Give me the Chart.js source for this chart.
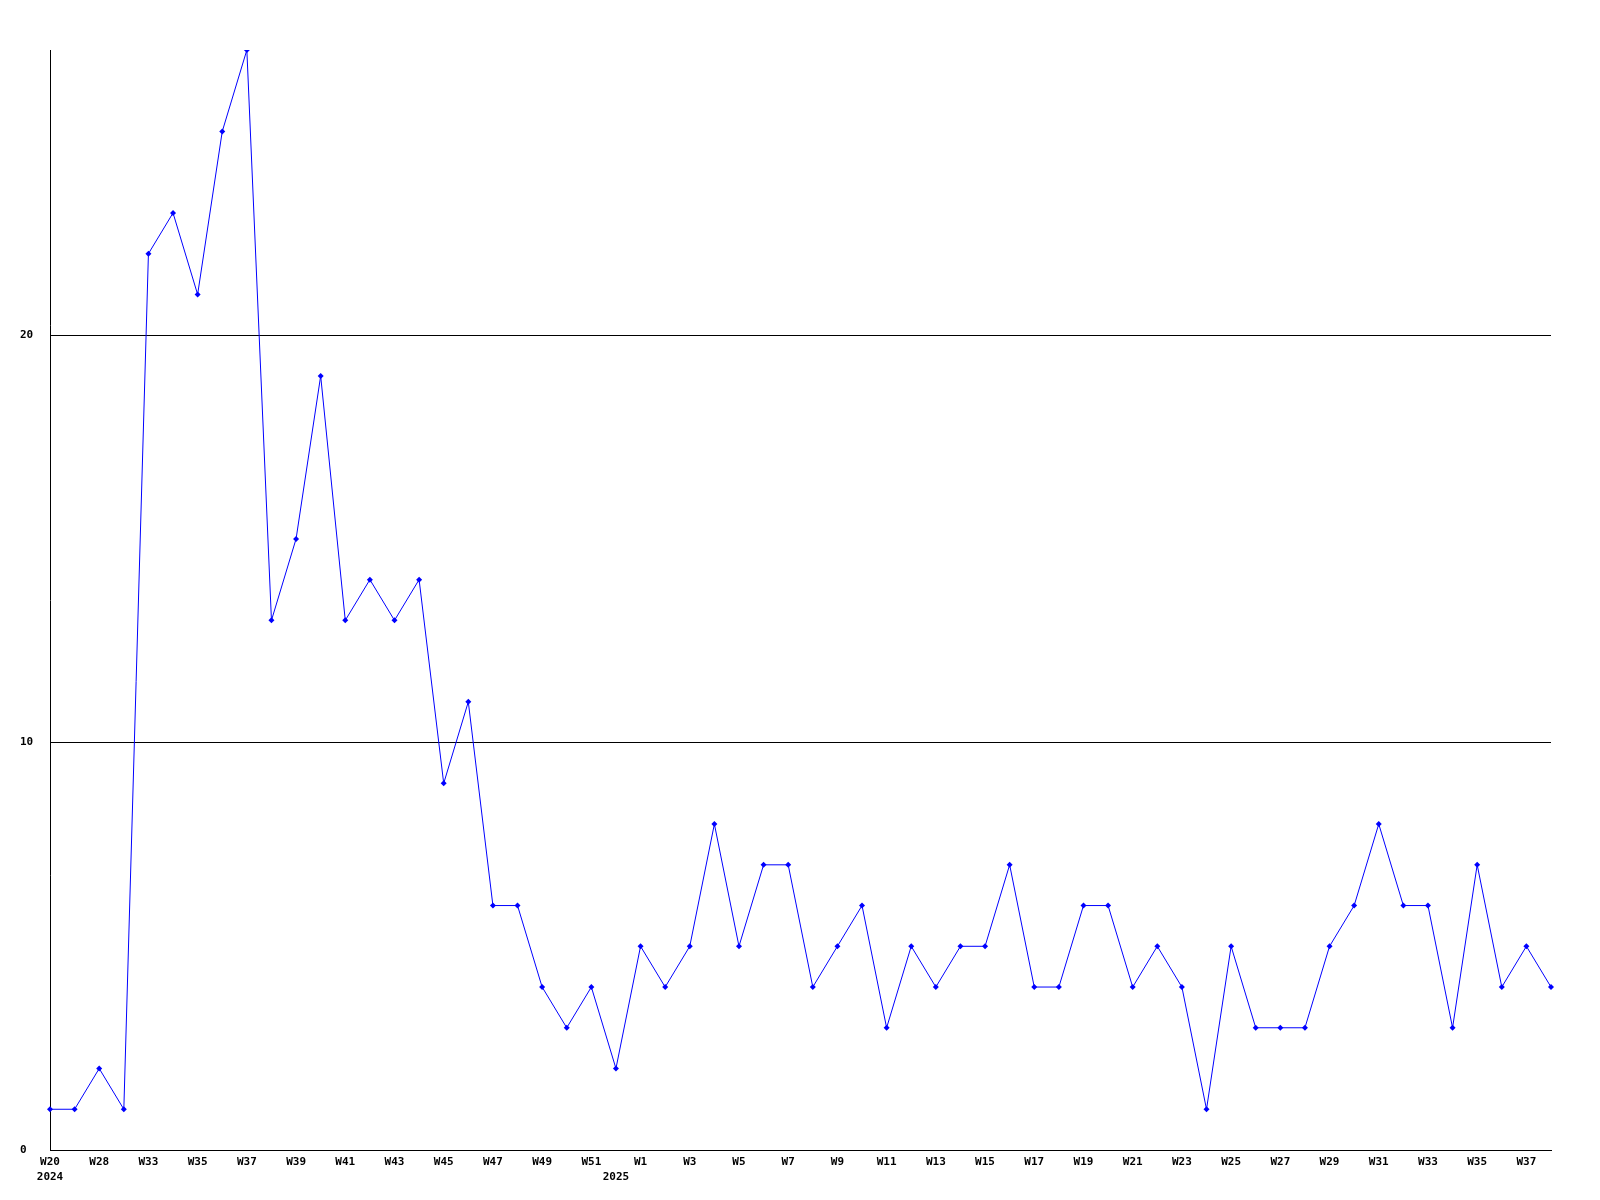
<!DOCTYPE html>
<html>
<head>
<meta charset="utf-8">
<script src="https://cdn.jsdelivr.net/npm/chart.js@4"></script>
<style>
html,body{margin:0;padding:0;background:#fff;}
#wrap{width:1600px;height:1200px;position:relative;}
</style>
</head>
<body>
<div id="wrap"><canvas id="c" width="1600" height="1200"></canvas></div>
<script>
const categories = ["W20","W24","W28","W30","W33","W34","W35","W36","W37","W38","W39","W40","W41","W42","W43","W44","W45","W46","W47","W48","W49","W50","W51","W52",
  "W1","W2","W3","W4","W5","W6","W7","W8","W9","W10","W11","W12","W13","W14","W15","W16","W17","W18","W19","W20","W21","W22","W23","W24","W25","W26","W27","W28","W29","W30","W31","W32","W33","W34","W35","W36","W37","W38"];
const values = [1,1,2,1,22,23,21,25,27,13,15,19,13,14,13,14,9,11,6,6,4,3,4,2,
  5,4,5,8,5,7,7,4,5,6,3,5,4,5,5,7,4,4,6,6,4,5,4,1,5,3,3,3,5,6,8,6,6,3,7,4,5,4];
const yearIndex = [0, 23];
const yearLabels = ["2024", "2025"];
const yTicks = [0, 10, 20];

const font = {family: "'DejaVu Sans Mono', monospace", size: 11, weight: 'bold', lineHeight: 1.36};

new Chart(document.getElementById('c'), {
  type: 'line',
  data: {
    labels: categories,
    datasets: [{
      data: values,
      borderColor: '#0000ff',
      backgroundColor: '#0000ff',
      borderWidth: 1,
      pointStyle: 'rectRot',
      pointRadius: 3,
      pointBorderWidth: 0,
      tension: 0,
      fill: false
    }]
  },
  options: {
    responsive: false,
    animation: false,
    devicePixelRatio: 1,
    layout: {padding: {left: 20, top: 50, right: 49, bottom: 0}},
    plugins: {legend: {display: false}, tooltip: {enabled: false}},
    scales: {
      x: {
        type: 'category',
        offset: false,
        grid: {display: false, drawTicks: false},
        border: {display: true, color: '#000', width: 1},
        afterFit: s => { s.height = 50; },
        ticks: {
          autoSkip: false, maxRotation: 0, minRotation: 0, padding: 5,
          color: '#000', font: font,
          callback: function(v, i) {
            const yi = yearIndex.indexOf(i);
            const main = (i % 2 === 0) ? categories[i] : '';
            if (yi >= 0) return [main, yearLabels[yi]];
            return main;
          }
        }
      },
      y: {
        min: 0, max: 27,
        afterFit: s => { s.width = 30; },
        afterBuildTicks: s => { s.ticks = yTicks.map(v => ({value: v})); },
        grid: {display: true, color: '#000', lineWidth: 1, drawTicks: false},
        border: {display: true, color: '#000', width: 1},
        ticks: {
          color: '#000', font: font, crossAlign: 'far', padding: 0
        }
      }
    }
  }
});
</script>
</body>
</html>
